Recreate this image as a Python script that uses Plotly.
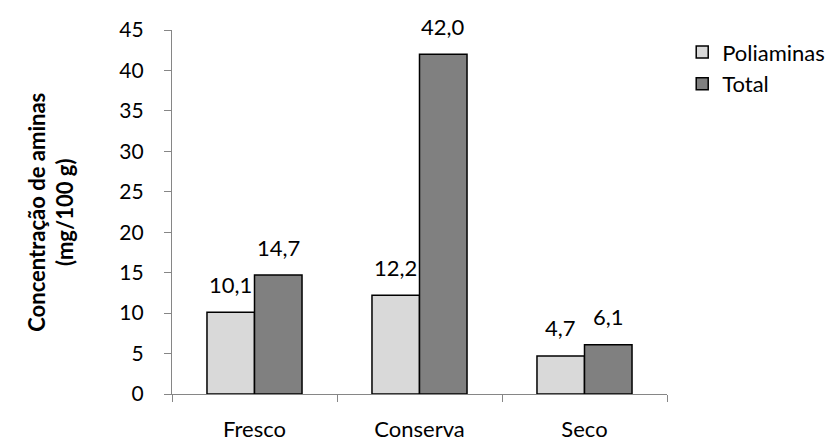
import plotly.graph_objects as go

# Amine concentration by product type
categories = ["Fresco", "Conserva", "Seco"]
poliaminas = [10.1, 12.2, 4.7]
total = [14.7, 42.0, 6.1]
series_names = ["Poliaminas", "Total"]
y_ticks = [0, 5, 10, 15, 20, 25, 30, 35, 40, 45]

FONT = "Lato"
AXIS_GREY = "#868686"
W, H = 834, 447
M_L, M_R, M_T, M_B = 172, 167, 30, 53
BARGAP = 0.424

def fmt(v):
    return f"{v:.1f}".replace(".", ",")

fig = go.Figure()
fig.add_trace(go.Bar(
    name=series_names[0], x=categories, y=poliaminas,
    marker=dict(color="#D9D9D9", line=dict(color="#000000", width=1.5)),
))
fig.add_trace(go.Bar(
    name=series_names[1], x=categories, y=total,
    marker=dict(color="#808080", line=dict(color="#000000", width=1.5)),
))

# value labels above each bar
plot_w = W - M_L - M_R
bar_w = plot_w / len(categories) * (1 - BARGAP) / 2
for vals, side in ((poliaminas, -1), (total, 1)):
    for c, v in zip(categories, vals):
        fig.add_annotation(
            x=c, y=v, xref="x", yref="y", text=fmt(v), showarrow=False,
            xshift=side * bar_w / 2, yshift=28, yanchor="middle",
            font=dict(family=FONT, size=22, color="#000000"),
        )

fig.add_annotation(
    x=-0.245, y=0.5, xref="paper", yref="paper", textangle=-90,
    text="<b>Concentração de aminas</b><br><b>(mg/100 g)</b>",
    showarrow=False, xanchor="center", yanchor="middle",
    font=dict(family=FONT, size=22, color="#000000"),
)

fig.update_layout(
    width=W, height=H,
    margin=dict(l=M_L, r=M_R, t=M_T, b=M_B, pad=0, autoexpand=False),
    paper_bgcolor="white", plot_bgcolor="white",
    barmode="group", bargap=BARGAP, bargroupgap=0,
    font=dict(family=FONT, size=21, color="#000000"),
    legend=dict(
        xref="container", yref="container",
        x=0.818, y=0.93, xanchor="left", yanchor="top",
        font=dict(family=FONT, size=22, color="#000000"),
        itemwidth=30, tracegroupgap=0, bgcolor="rgba(0,0,0,0)",
    ),
    xaxis=dict(
        type="category", showgrid=False, showline=True, automargin=False,
        linecolor=AXIS_GREY, linewidth=1.3,
        ticks="outside", tickson="boundaries", ticklen=7,
        tickcolor=AXIS_GREY, tickwidth=1.3,
        ticklabelstandoff=15,
        tickfont=dict(family=FONT, size=22, color="#000000"),
    ),
    yaxis=dict(
        range=[0, 45], tickvals=y_ticks, showgrid=False, zeroline=False,
        showline=True, automargin=False, linecolor=AXIS_GREY, linewidth=1.3,
        ticks="outside", ticklen=7, tickcolor=AXIS_GREY, tickwidth=1.3,
        ticklabelstandoff=16,
        tickfont=dict(family=FONT, size=21, color="#000000"),
    ),
)

fig.write_html("out.html")
